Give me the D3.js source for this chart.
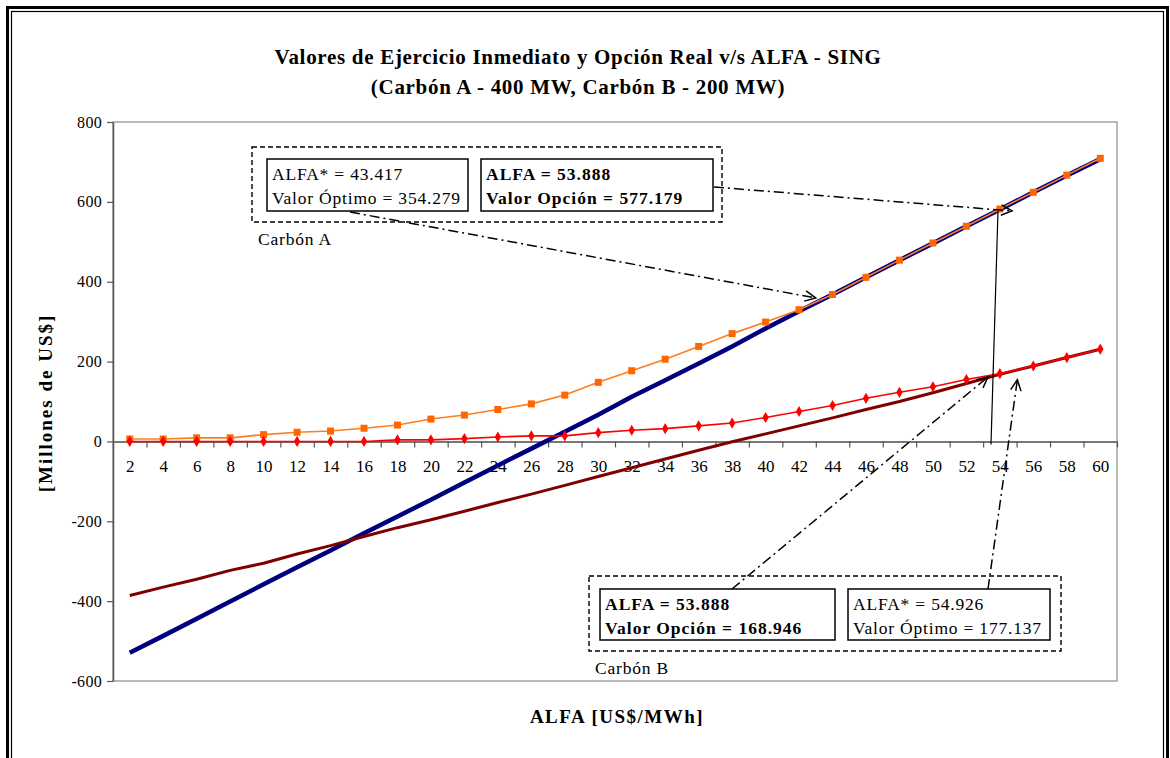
<!DOCTYPE html>
<html>
<head>
<meta charset="utf-8">
<script src="https://cdn.jsdelivr.net/npm/d3@7/dist/d3.min.js"></script>
<style>
  html, body { margin: 0; padding: 0; background: #fff; }
  svg { display: block; }
  text { font-family: "Liberation Serif", "Times New Roman", serif; fill: #000; }
</style>
</head>
<body>
<svg id="chart" width="1170" height="758"></svg>
<script>
// ALFA categories [US$/MWh]
const alfa = [2,4,6,8,10,12,14,16,18,20,22,24,26,28,30,32,34,36,38,40,42,44,46,48,50,52,54,56,58,60];
const yTicks = [-600,-400,-200,0,200,400,600,800];

// Carbón A (400 MW) [Millones de US$]
const opcionA    = [6,6,9,9,17,23,26,33,41,56,66,80,94,116,148,177,206,238,270,299,330,368,411,454,497,539,582,624,667,709];
const ejercicioA = [-529,-487,-444,-401,-358,-315,-273,-230,-188,-146,-103,-60,-18,24,67,112,153,195,238,283,326,368,411,454,496,539,581,624,666,707];

// Carbón B (200 MW) [Millones de US$]
const opcionB    = [0,0,0,0,0,0,0,0,4,4,7,11,14,14,22,28,32,39,46,60,75,90,108,123,137,155,170,189,210,231];
const ejercicioB = [-386,-365,-345,-323,-305,-282,-261,-238,-216,-196,-175,-153,-132,-110,-88,-66,-44,-22,-1,19,39,59,80,100,122,145,168,189,210,231];

// Annotated points
const puntoA_opt = {alfa: 43.417, valor: 354.279};
const puntoA_op  = {alfa: 53.888, valor: 577.179};
const puntoB_op  = {alfa: 53.888, valor: 168.946};
const puntoB_opt = {alfa: 54.926, valor: 177.137};

const svg = d3.select("#chart");

// Double frame around the whole figure
svg.append("rect").attr("x", 7.5).attr("y", 7.5).attr("width", 1160).attr("height", 800)
  .attr("fill", "none").attr("stroke", "#000").attr("stroke-width", 3);
svg.append("rect").attr("x", 11.5).attr("y", 11.5).attr("width", 1152).attr("height", 800)
  .attr("fill", "none").attr("stroke", "#000").attr("stroke-width", 1.2);

const L = 113, R = 1117, T = 122, B = 681;
// Continuous ALFA scale: each category occupies 2 units, centred on its value
const x = d3.scaleLinear().domain([alfa[0] - 1, alfa[alfa.length - 1] + 1]).range([L, R]);
const y = d3.scaleLinear().domain([-600, 800]).range([B, T]);

// Title
const titleStyle = sel => sel.attr("text-anchor", "middle").attr("font-size", 21)
  .attr("font-weight", "bold").attr("letter-spacing", 0.7);
svg.append("text").attr("x", 578).attr("y", 64).call(titleStyle)
  .text("Valores de Ejercicio Inmediato y Opción Real v/s ALFA - SING");
svg.append("text").attr("x", 578).attr("y", 94).call(titleStyle)
  .text("(Carbón A - 400 MW, Carbón B - 200 MW)");

// Plot area frame
svg.append("rect").attr("x", L).attr("y", T).attr("width", R - L).attr("height", B - T)
  .attr("fill", "none").attr("stroke", "#8c8c8c").attr("stroke-width", 1.2);

// Y axis
const yAxis = svg.append("g").attr("transform", `translate(${L},0)`)
  .call(d3.axisLeft(y).tickValues(yTicks).tickSize(6).tickSizeOuter(0).tickPadding(5).tickFormat(d => String(d)));
yAxis.select(".domain").attr("stroke", "#555").attr("stroke-width", 1.5);
yAxis.selectAll(".tick line").attr("stroke", "#555").attr("stroke-width", 1.2);
yAxis.selectAll(".tick text").attr("font-family", "Liberation Serif").attr("font-size", 16)
  .attr("letter-spacing", 0.3).attr("fill", "#000");

// X axis on the zero line: tick marks between categories
const boundaries = alfa.map(a => a - 1).concat([alfa[alfa.length - 1] + 1]);
const xTickAxis = svg.append("g").attr("transform", `translate(0,${y(0)})`)
  .call(d3.axisBottom(x).tickValues(boundaries).tickSize(6).tickSizeOuter(0).tickFormat(""));
xTickAxis.select(".domain").attr("stroke", "#777").attr("stroke-width", 2);
xTickAxis.selectAll(".tick line").attr("stroke", "#555").attr("stroke-width", 1.2);

const xLabelAxis = svg.append("g").attr("transform", `translate(0,${y(0)})`)
  .call(d3.axisBottom(x).tickValues(alfa).tickSize(0).tickPadding(19).tickFormat(d => String(d)));
xLabelAxis.select(".domain").remove();
xLabelAxis.selectAll(".tick text").attr("font-family", "Liberation Serif").attr("font-size", 17).attr("fill", "#000");

// Axis titles
svg.append("text").attr("transform", "translate(52,403) rotate(-90)").attr("text-anchor", "middle")
  .attr("font-size", 19).attr("font-weight", "bold").attr("letter-spacing", 2).text("[Millones de US$]");
svg.append("text").attr("x", 617).attr("y", 723).attr("text-anchor", "middle")
  .attr("font-size", 19).attr("font-weight", "bold").attr("letter-spacing", 1.5).text("ALFA [US$/MWh]");

// Series
const line = vals => d3.line().x((d, i) => x(alfa[i])).y(d => y(d))(vals);

svg.append("path").attr("d", line(ejercicioA)).attr("fill", "none")
  .attr("stroke", "#00007f").attr("stroke-width", 4.5).attr("stroke-linejoin", "round");
svg.append("path").attr("d", line(ejercicioB)).attr("fill", "none")
  .attr("stroke", "#7f0000").attr("stroke-width", 3).attr("stroke-linejoin", "round");

svg.append("path").attr("d", line(opcionA)).attr("fill", "none")
  .attr("stroke", "#ff7d1c").attr("stroke-width", 1.6);
svg.selectAll(".mA").data(opcionA).join("rect").attr("class", "mA")
  .attr("x", (d, i) => x(alfa[i]) - 3.5).attr("y", d => y(d) - 3.5)
  .attr("width", 7).attr("height", 7).attr("fill", "#ff6600");

svg.append("path").attr("d", line(opcionB)).attr("fill", "none")
  .attr("stroke", "#ff0000").attr("stroke-width", 1.6);
const diamond = d3.symbol().type(d3.symbolDiamond).size(36);
svg.selectAll(".mB").data(opcionB).join("path").attr("class", "mB")
  .attr("transform", (d, i) => `translate(${x(alfa[i])},${y(d)})`)
  .attr("d", diamond).attr("fill", "#ff0000");

// Annotation helpers
const dashDot = "10,4,2,4";
function arrow(x1, y1, x2, y2) {
  svg.append("line").attr("x1", x1).attr("y1", y1).attr("x2", x2).attr("y2", y2)
    .attr("stroke", "#000").attr("stroke-width", 1.5).attr("stroke-dasharray", dashDot);
  const ang = Math.atan2(y2 - y1, x2 - x1), len = 12, spread = 0.45;
  const p1 = [x2 - len * Math.cos(ang - spread), y2 - len * Math.sin(ang - spread)];
  const p2 = [x2 - len * Math.cos(ang + spread), y2 - len * Math.sin(ang + spread)];
  svg.append("path").attr("d", `M${p1[0]},${p1[1]}L${x2},${y2}L${p2[0]},${p2[1]}`)
    .attr("fill", "none").attr("stroke", "#000").attr("stroke-width", 1.5);
}
function textBox(x0, y0, w, h, lines, bold) {
  svg.append("rect").attr("x", x0).attr("y", y0).attr("width", w).attr("height", h)
    .attr("fill", "#fff").attr("stroke", "#000").attr("stroke-width", 1.5);
  lines.forEach((t, i) => svg.append("text").attr("x", x0 + 5).attr("y", y0 + 21 + i * 24)
    .attr("font-size", 17.5).attr("letter-spacing", bold ? 1 : 0.8)
    .attr("font-weight", bold ? "bold" : "normal").text(t));
}
function groupBox(x0, y0, w, h, label) {
  svg.append("rect").attr("x", x0).attr("y", y0).attr("width", w).attr("height", h)
    .attr("fill", "none").attr("stroke", "#000").attr("stroke-width", 1.4).attr("stroke-dasharray", "5,3");
  svg.append("text").attr("x", x0 + 6).attr("y", y0 + h + 23).attr("font-size", 17.5)
    .attr("letter-spacing", 0.8).text(label);
}

// Vertical marker at ALFA = 53.888
svg.append("line").attr("x1", x(puntoA_op.alfa)).attr("y1", y(puntoA_op.valor))
  .attr("x2", x(puntoA_op.alfa) - 7).attr("y2", y(0) + 3)
  .attr("stroke", "#000").attr("stroke-width", 1.2);

// Carbón A annotations
arrow(350, 212, x(puntoA_opt.alfa) - 7, y(puntoA_opt.valor) - 2);
arrow(714, 187, x(puntoA_op.alfa) + 14, y(puntoA_op.valor));
groupBox(252, 147, 470, 75, "Carbón A");
textBox(267, 159, 201, 52, ["ALFA* = 43.417", "Valor Óptimo = 354.279"], false);
textBox(481, 159, 232, 52, ["ALFA = 53.888", "Valor Opción = 577.179"], true);

// Carbón B annotations
arrow(732, 589, x(puntoB_op.alfa) - 10, y(puntoB_op.valor) + 3);
arrow(988, 589, x(puntoB_opt.alfa) + 2, y(puntoB_opt.valor) + 9);
groupBox(589, 576, 472, 75, "Carbón B");
textBox(600, 589, 235, 51, ["ALFA = 53.888", "Valor Opción = 168.946"], true);
textBox(848, 589, 202, 51, ["ALFA* = 54.926", "Valor Óptimo = 177.137"], false);
</script>
</body>
</html>
